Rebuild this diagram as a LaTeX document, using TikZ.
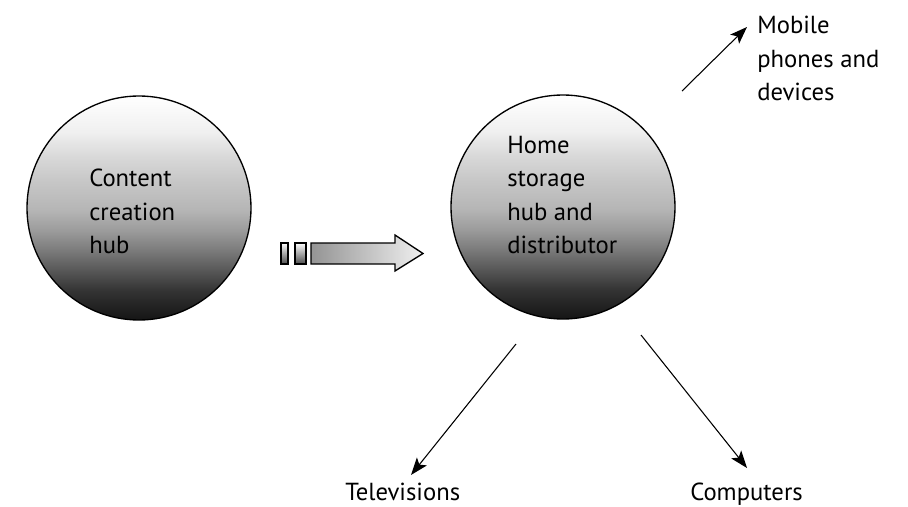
\documentclass[tikz,border=0pt]{standalone}
\usepackage{fontspec}
\setmainfont{PT Sans}
\usetikzlibrary{arrows.meta}

% Vertical fill for the two hub spheres: pale at the top, near black at the bottom
\pgfdeclareverticalshading{hubfill}{100bp}{%
  color(0bp)=(black!92);
  color(25bp)=(black!92);
  color(31.5bp)=(black!80);
  color(36bp)=(black!66);
  color(40.5bp)=(black!52);
  color(45bp)=(black!39);
  color(49.5bp)=(black!29);
  color(56bp)=(black!22);
  color(61.5bp)=(black!15);
  color(67bp)=(black!6);
  color(75bp)=(white);
  color(100bp)=(white)}

\tikzset{
  hub/.style={circle, draw=black, line width=1pt, inner sep=0pt,
              minimum size=168pt, shading=hubfill},
  hubtext/.style={inner sep=0pt, align=left, anchor=north west,
                  font=\fontsize{18.5}{25}\selectfont},
  lbl/.style={inner sep=0pt, align=left,
              font=\fontsize{18.5}{25}\selectfont},
  link/.style={line width=0.8pt, -{Stealth[length=13pt, width=9.5pt, inset=3pt]}},
  blockline/.style={draw=black, line width=1pt, line join=miter},
}

\begin{document}
\begin{tikzpicture}[x=0.75pt, y=-0.75pt]
  \useasboundingbox (0,0) rectangle (908,507);

  % the two hubs
  \node[hub] (create) at (139,208) {};
  \node[hub] (home)   at (563,207) {};

  \node[hubtext] (createtext) at (89,169) {Content\\creation\\hub};
  \node[hubtext] (hometext)   at (507,136) {Home\\storage\\hub and\\distributor};

  % flow from the creation hub to the home hub
  \draw[blockline, top color=white, bottom color=black!70]
    (281,243) rectangle (288,264);
  \draw[blockline, top color=white, bottom color=black!70]
    (295,243) rectangle (306,264);
  \draw[blockline, left color=black!42, right color=black!6]
    (311,243) -- (395,243) -- (395,235) -- (423,253.5)
    -- (395,271) -- (395,264) -- (311,264) -- cycle;

  % destinations
  \node[lbl, anchor=north west] (mobile) at (757,16) {Mobile\\phones and\\devices};
  \node[lbl, anchor=base west] (tv)   at (345,500) {Televisions};
  \node[lbl, anchor=base west] (comp) at (690,500) {Computers};

  \coordinate (mobS)  at (682,91);
  \coordinate (mobE)  at (747,27);
  \coordinate (tvS)   at (516,344);
  \coordinate (tvE)   at (411,475);
  \coordinate (compS) at (641,335);
  \coordinate (compE) at (747,468);

  \draw[link] (mobS)  -- (mobE);
  \draw[link] (tvS)   -- (tvE);
  \draw[link] (compS) -- (compE);
\end{tikzpicture}
\end{document}
